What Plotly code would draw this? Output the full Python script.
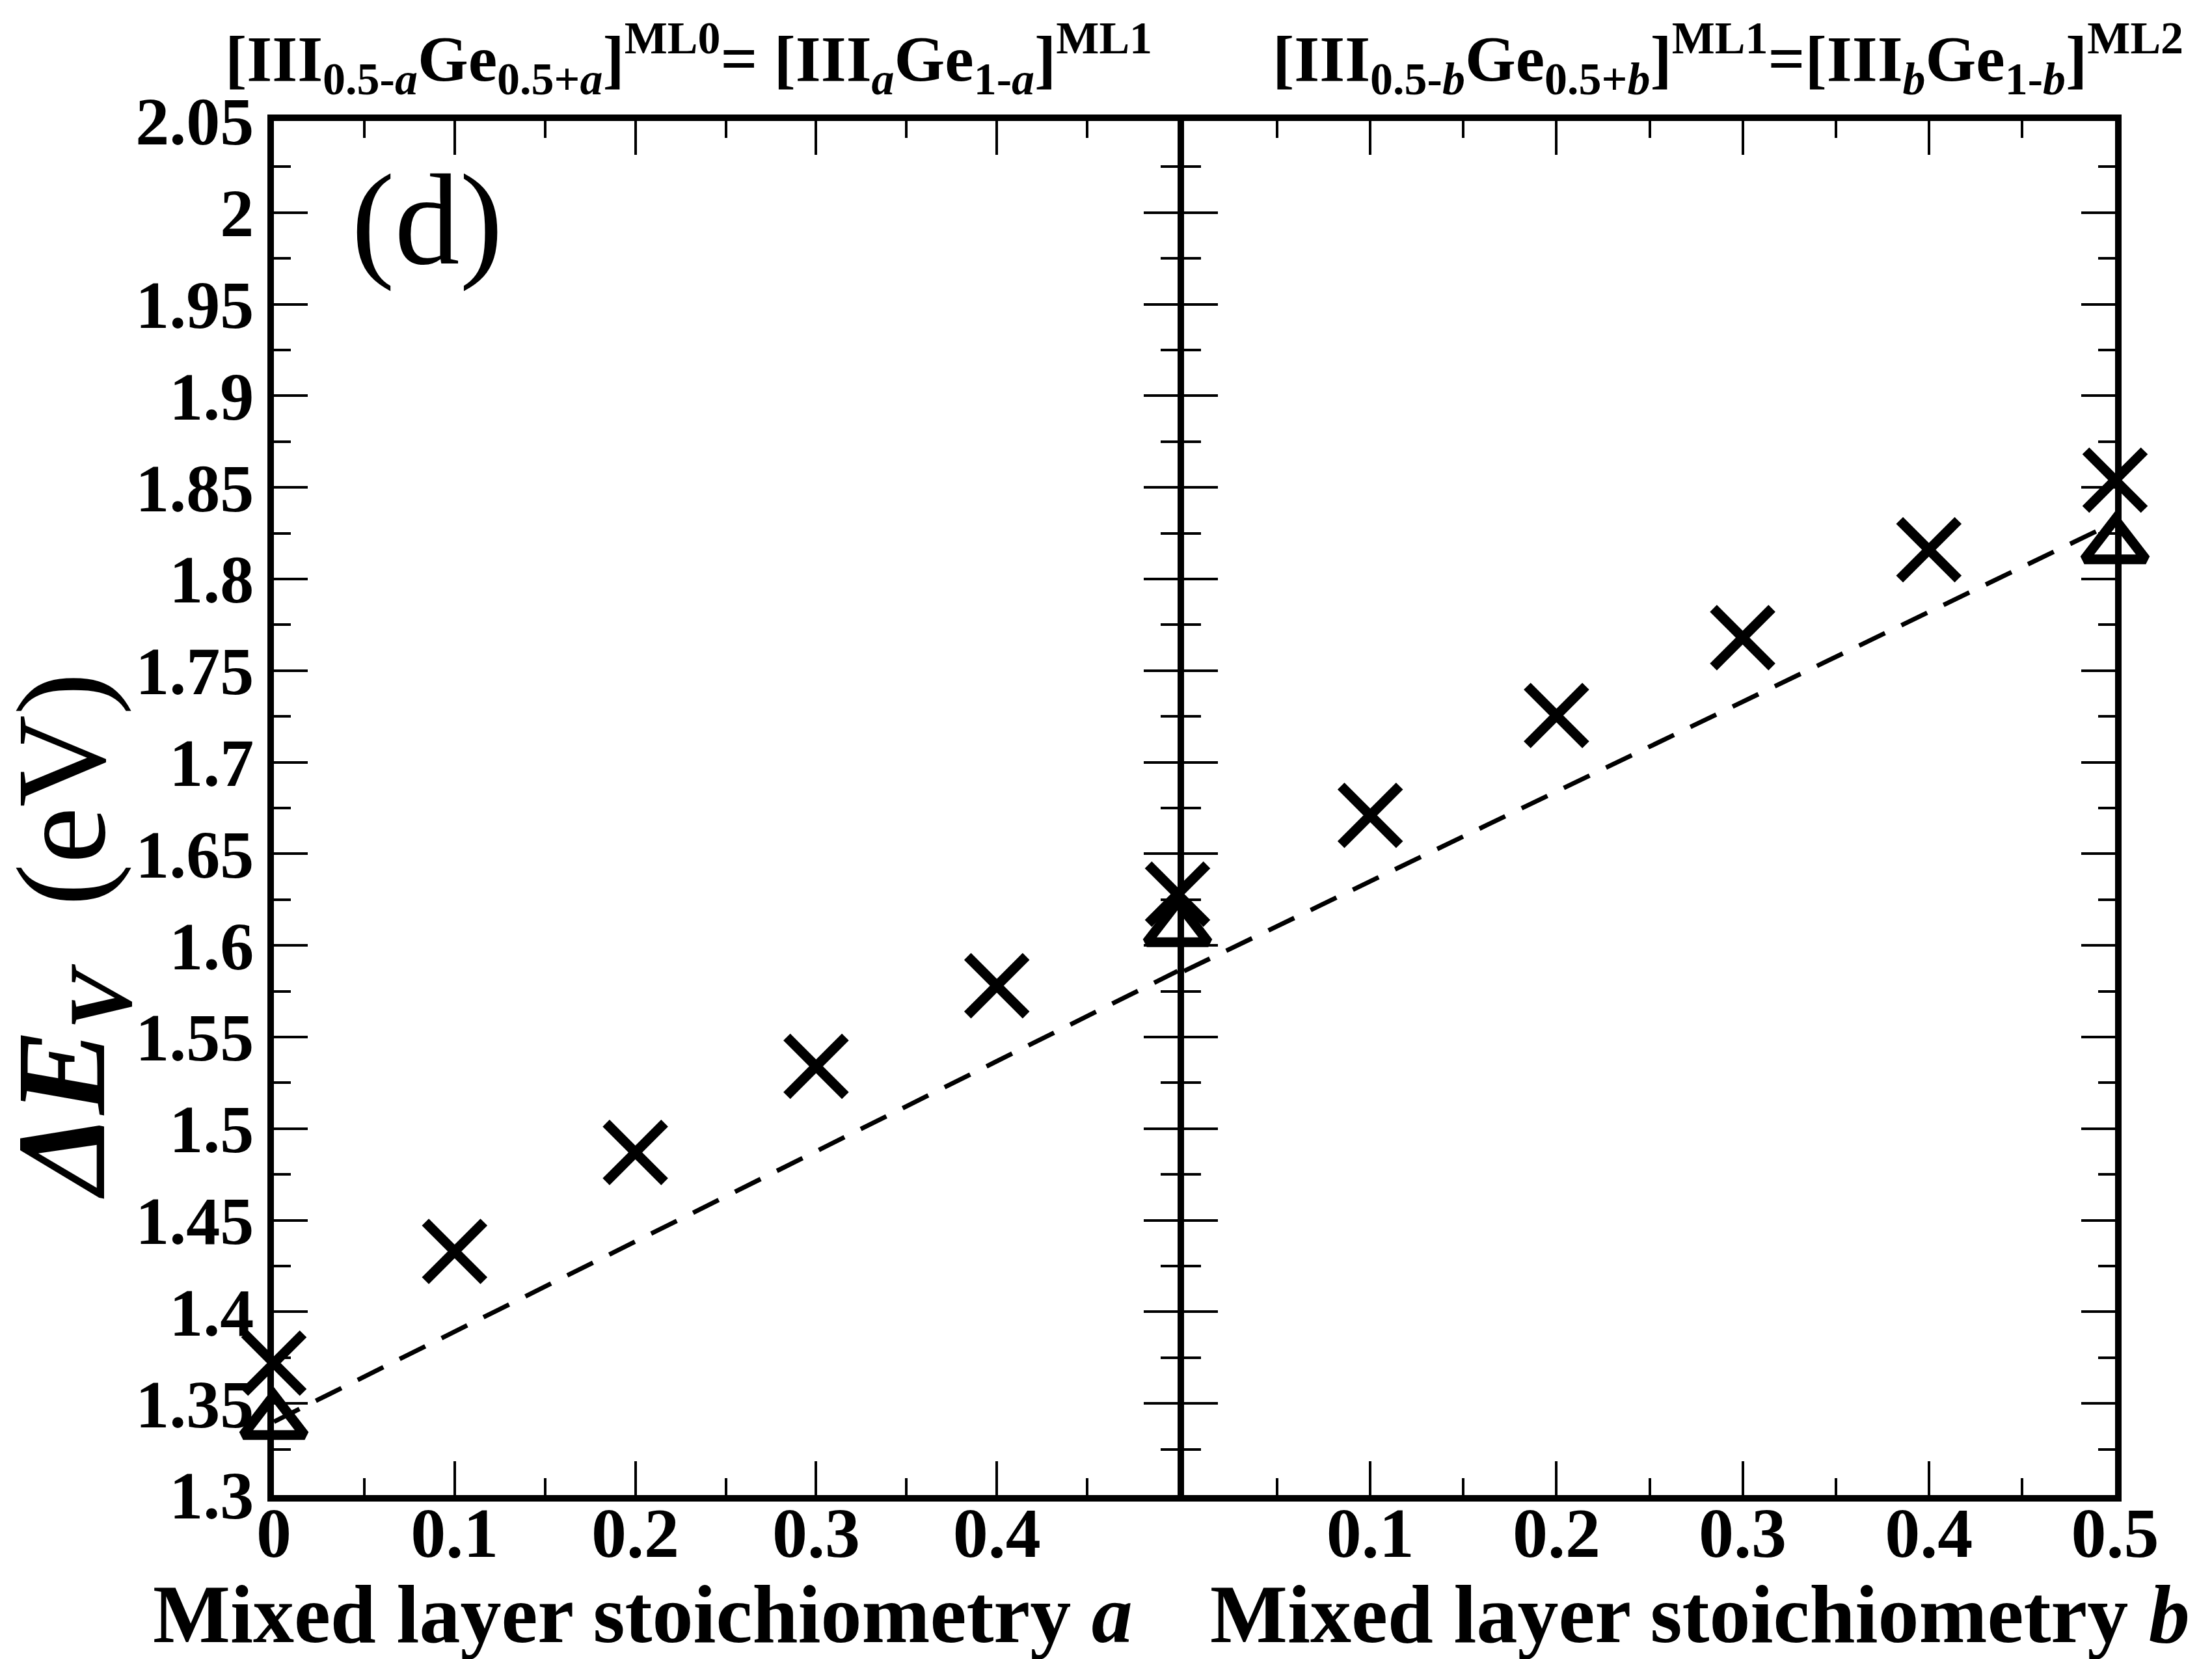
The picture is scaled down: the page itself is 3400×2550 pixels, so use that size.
import plotly.graph_objects as go

# ---- data ----
# left panel: stoichiometry a
a_cross = [0.0, 0.1, 0.2, 0.3, 0.4, 0.5]
ev_cross_a = [1.372, 1.433, 1.487, 1.534, 1.578, 1.628]
a_tri = [0.0, 0.5]
ev_tri_a = [1.340, 1.609]
a_fit = [0.0, 0.5]
ev_fit_a = [1.340, 1.586]

# right panel: stoichiometry b
b_cross = [0.1, 0.2, 0.3, 0.4, 0.5]
ev_cross_b = [1.671, 1.7255, 1.768, 1.816, 1.854]
b_tri = [0.5]
ev_tri_b = [1.818]
b_fit = [0.0, 0.5]
ev_fit_b = [1.586, 1.831]

y_ticks = [1.3, 1.35, 1.4, 1.45, 1.5, 1.55, 1.6, 1.65, 1.7, 1.75, 1.8, 1.85, 1.9, 1.95, 2.0, 2.05]
x_ticks = [0.0, 0.1, 0.2, 0.3, 0.4, 0.5]
x_labels_a = ["0", "0.1", "0.2", "0.3", "0.4", ""]
x_labels_b = ["", "0.1", "0.2", "0.3", "0.4", "0.5"]

FONT = "Liberation Serif"
W, H = 3400, 2550

def px_x(p):
    return p / W

def px_y(p):
    return 1 - p / H

fig = go.Figure()

cross = dict(symbol="x-thin-open", size=90, color="black", line=dict(width=15, color="black"))
tri = dict(symbol="triangle-up-open", size=82, color="black", line=dict(width=15, color="black"))
dash = dict(color="black", width=7, dash="44px,28px")

fig.add_trace(go.Scatter(x=a_fit, y=ev_fit_a, mode="lines", line=dash, xaxis="x", yaxis="y", cliponaxis=False))
fig.add_trace(go.Scatter(x=a_cross, y=ev_cross_a, mode="markers", marker=cross, xaxis="x", yaxis="y", cliponaxis=False))
fig.add_trace(go.Scatter(x=a_tri, y=ev_tri_a, mode="markers", marker=tri, xaxis="x", yaxis="y", cliponaxis=False))

fig.add_trace(go.Scatter(x=b_fit, y=ev_fit_b, mode="lines", line=dash, xaxis="x2", yaxis="y2", cliponaxis=False))
fig.add_trace(go.Scatter(x=b_cross, y=ev_cross_b, mode="markers", marker=cross, xaxis="x2", yaxis="y2", cliponaxis=False))
fig.add_trace(go.Scatter(x=b_tri, y=ev_tri_b, mode="markers", marker=tri, xaxis="x2", yaxis="y2", cliponaxis=False))

tickfont = dict(family=FONT, size=108, color="black", weight="bold")
minor = dict(dtick=0.05, ticks="inside", ticklen=26, tickwidth=4, tickcolor="black")
xcommon = dict(range=[0, 0.5], tickmode="array", tickvals=x_ticks, ticks="inside", ticklen=52,
               tickwidth=4, tickcolor="black", showline=True, linewidth=10, linecolor="black",
               mirror="ticks", showgrid=False, zeroline=False, tickfont=tickfont,
               ticklabelstandoff=-45, minor=minor, automargin=False)
ycommon = dict(range=[1.3, 2.05], tickmode="array", tickvals=y_ticks, ticktext=[f"{v:g}" for v in y_ticks],
               ticks="inside", ticklen=52, tickwidth=4, tickcolor="black", showline=True,
               linewidth=10, linecolor="black", mirror="ticks", showgrid=False, zeroline=False,
               tickfont=dict(family=FONT, size=104, color="black", weight="bold"), automargin=False,
               minor=dict(dtick=0.025, ticks="inside", ticklen=26, tickwidth=4, tickcolor="black"))

left_dom = [px_x(413), px_x(1802)]
right_dom = [px_x(1812), px_x(3243)]
y_dom = [px_y(2290), px_y(178)]

fig.update_layout(
    template="none",
    width=W, height=H,
    margin=dict(l=0, r=0, t=0, b=0, pad=0, autoexpand=False),
    paper_bgcolor="white", plot_bgcolor="white",
    showlegend=False,
    font=dict(family=FONT, color="black"),
    xaxis=dict(domain=left_dom, anchor="y", ticktext=x_labels_a, **xcommon),
    xaxis2=dict(domain=right_dom, anchor="y2", ticktext=x_labels_b, **xcommon),
    yaxis=dict(domain=y_dom, anchor="x", **ycommon),
    yaxis2=dict(domain=y_dom, anchor="x2", showticklabels=False, **ycommon),
)

ann = []
ann.append(dict(text="(d)", x=px_x(530), y=px_y(330), xref="paper", yref="paper",
                xanchor="left", yanchor="middle", showarrow=False,
                font=dict(family=FONT, size=200, color="black")))
ann.append(dict(text="<b><i>ΔE</i></b><sub><b><i>V</i></b></sub>  (eV)", textangle=-90,
                x=px_x(100), y=px_y(1431), xref="paper", yref="paper",
                xanchor="center", yanchor="middle", showarrow=False,
                font=dict(family=FONT, size=196, color="black")))
ann.append(dict(text="<b>Mixed layer stoichiometry <i>a</i></b>", x=px_x(980), y=px_y(2473),
                xref="paper", yref="paper", xanchor="center", yanchor="middle", showarrow=False,
                font=dict(family=FONT, size=126, color="black")))
ann.append(dict(text="<b>Mixed layer stoichiometry <i>b</i></b>", x=px_x(2605), y=px_y(2473),
                xref="paper", yref="paper", xanchor="center", yanchor="middle", showarrow=False,
                font=dict(family=FONT, size=126, color="black")))
ann.append(dict(text="<b>[III<sub>0.5-<i>a</i></sub>Ge<sub>0.5+<i>a</i></sub>]<sup>ML0</sup>= "
                     "[III<sub><i>a</i></sub>Ge<sub>1-<i>a</i></sub>]<sup>ML1</sup></b>",
                x=px_x(1050), y=px_y(82), xref="paper", yref="paper",
                xanchor="center", yanchor="middle", showarrow=False,
                font=dict(family=FONT, size=100, color="black")))
ann.append(dict(text="<b>[III<sub>0.5-<i>b</i></sub>Ge<sub>0.5+<i>b</i></sub>]<sup>ML1</sup>="
                     "[III<sub><i>b</i></sub>Ge<sub>1-<i>b</i></sub>]<sup>ML2</sup></b>",
                x=px_x(2648), y=px_y(82), xref="paper", yref="paper",
                xanchor="center", yanchor="middle", showarrow=False,
                font=dict(family=FONT, size=100, color="black")))
fig.update_layout(annotations=ann)

fig.write_html("out.html")
